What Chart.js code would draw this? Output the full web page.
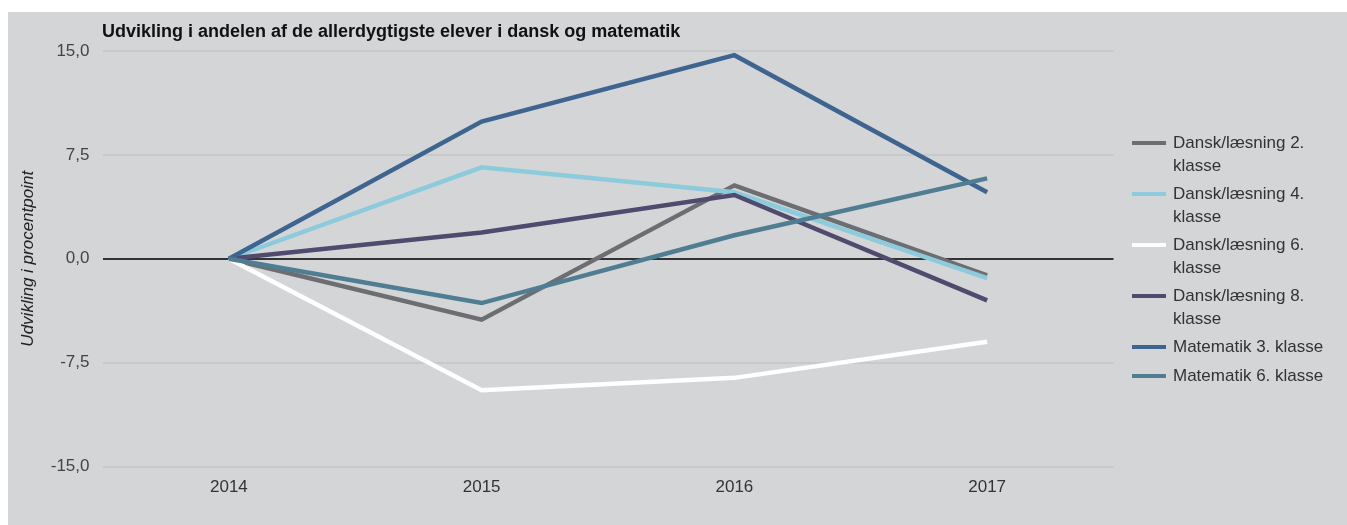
<!DOCTYPE html>
<html>
<head>
<meta charset="utf-8">
<script src="https://cdn.jsdelivr.net/npm/chart.js@4"></script>
<style>
  body { margin: 0; background: #fff; }
  #wrap { position: absolute; left: 8px; top: 12px; width: 1339px; height: 513px; background: #d4d5d7; }
</style>
</head>
<body>
<div id="wrap"><canvas id="chart"></canvas></div>
<script>
// data
var years = ['2014', '2015', '2016', '2017'];
var seriesNames = [
  ['Dansk/læsning 2.', 'klasse'],
  ['Dansk/læsning 4.', 'klasse'],
  ['Dansk/læsning 6.', 'klasse'],
  ['Dansk/læsning 8.', 'klasse'],
  ['Matematik 3. klasse'],
  ['Matematik 6. klasse']
];
var dansk2 = [0, -4.4, 5.3, -1.2];
var dansk4 = [0, 6.6, 4.8, -1.4];
var dansk6 = [0, -9.5, -8.6, -6.0];
var dansk8 = [0, 1.9, 4.6, -3.0];
var mat3 = [0, 9.9, 14.7, 4.8];
var mat6 = [0, -3.2, 1.7, 5.8];
var yTicks = [-15, -7.5, 0, 7.5, 15];

var colors = ['#6d6e71', '#8ccbdc', '#ffffff', '#4f4a6e', '#3d6590', '#4f7d91'];
var values = [dansk2, dansk4, dansk6, dansk8, mat3, mat6];

var FONT = 'Liberation Sans, Arial, sans-serif';

// titel og forklaring tegnes selv
var extras = {
  id: 'extras',
  afterDraw: function(chart) {
    var c = chart.ctx;
    c.save();
    c.fillStyle = '#111';
    c.font = 'bold 18px ' + FONT;
    c.textBaseline = 'middle';
    c.textAlign = 'left';
    c.fillText('Udvikling i andelen af de allerdygtigste elever i dansk og matematik', 94, 20);

    // forklaring
    var y = 131;
    c.font = '17px ' + FONT;
    chart.data.datasets.forEach(function(ds, i) {
      var lines = seriesNames[i];
      c.fillStyle = ds.borderColor;
      c.fillRect(1124, y - 2, 34, 4);
      c.fillStyle = '#333';
      lines.forEach(function(t, j) {
        c.fillText(t, 1165, y + j * 23);
      });
      y += lines.length > 1 ? 51 : 29;
    });
    c.restore();
  }
};

var ctx = document.getElementById('chart').getContext('2d');
var chart = new Chart(ctx, {
  type: 'line',
  data: {
    labels: years,
    datasets: values.map(function(v, i) {
      return {
        label: seriesNames[i].join(' '),
        data: v,
        borderColor: colors[i],
        backgroundColor: colors[i],
        borderWidth: 4.5,
        pointRadius: 0,
        tension: 0,
        order: 6 - i
      };
    })
  },
  options: {
    animation: false,
    responsive: true,
    maintainAspectRatio: false,
    layout: { padding: { left: 0, right: 233.5, top: 39, bottom: 0 } },
    plugins: {
      legend: { display: false },
      title: { display: false },
      tooltip: { enabled: false }
    },
    scales: {
      x: {
        offset: true,
        grid: { display: false, drawTicks: false },
        border: { display: false },
        ticks: { color: '#333', font: { family: FONT, size: 17 }, padding: 11 },
        afterFit: function(s) { s.height = 58.5; }
      },
      y: {
        min: -15,
        max: 15,
        afterBuildTicks: function(s) { s.ticks = yTicks.map(function(v) { return { value: v }; }); },
        grid: {
          drawTicks: false,
          lineWidth: 2,
          color: function(c) { return c.tick && c.tick.value === 0 ? '#333' : '#c8c9cb'; }
        },
        border: { display: false },
        ticks: {
          color: '#444',
          padding: 13,
          font: { family: FONT, size: 17 },
          callback: function(v) { return v.toFixed(1).replace('.', ','); }
        },
        title: {
          display: true,
          text: 'Udvikling i procentpoint',
          color: '#222',
          font: { family: FONT, size: 17, style: 'italic' },
          padding: { top: 10, bottom: 0 }
        },
        afterFit: function(s) { s.width = 94.5; }
      }
    }
  },
  plugins: [extras]
});
</script>
</body>
</html>
